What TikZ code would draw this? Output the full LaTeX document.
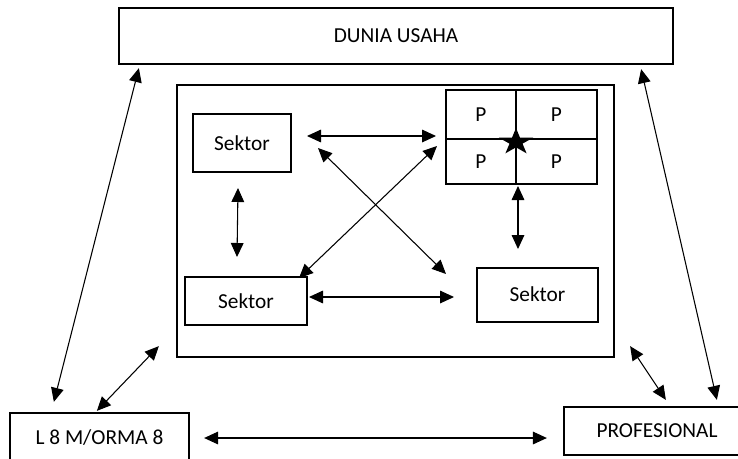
\documentclass[tikz,border=0pt]{standalone}
\usepackage{fontspec}
\setmainfont{Carlito}
\usetikzlibrary{arrows.meta}
\begin{document}
\begin{tikzpicture}[x=0.75pt,y=-0.75pt,
  box/.style={draw=black,line width=1.7pt,rectangle,inner sep=0pt,font=\fontsize{16pt}{19pt}\selectfont},
  inbox/.style={draw=black,line width=1.5pt,rectangle,inner sep=0pt,font=\fontsize{16pt}{19pt}\selectfont},
  cell/.style={draw=black,line width=1.5pt,rectangle,inner sep=0pt,font=\fontsize{16pt}{19pt}\selectfont},
  arr/.style={line width=0.8pt,{Triangle[length=10.5pt,width=9.5pt]}-{Triangle[length=10.5pt,width=9.5pt]}}]
\useasboundingbox (0,0) rectangle (738,458);
% outer boxes
\node[box,minimum width=415.5pt,minimum height=42pt] (top) at (396,36) {DUNIA USAHA};
\node[box,minimum width=327.75pt,minimum height=204pt] (cont) at (395.5,221) {};
\node[box,minimum width=134.25pt,minimum height=37.5pt] (L) at (99.5,438) {L 8 M/ORMA 8};
\node[box,minimum width=139.5pt,minimum height=36pt] (prof) at (657,431) {PROFESIONAL};
% inner boxes
\node[inbox,minimum width=73.5pt,minimum height=43.5pt] (s1) at (242,143) {Sektor};
\node[inbox,minimum width=91.5pt,minimum height=36pt] (s2) at (246,301) {Sektor\hspace{18pt}};
\node[inbox,minimum width=90.75pt,minimum height=40.5pt] (s3) at (537.5,295) {\raisebox{2pt}{Sektor}};
% P grid
\node[cell,minimum width=52.5pt,minimum height=36.75pt] (p1) at (481,114.5) {P};
\node[cell,minimum width=60.75pt,minimum height=36.75pt] (p2) at (556.5,114.5) {P};
\node[cell,minimum width=52.5pt,minimum height=33.75pt] (p3) at (481,161.5) {P};
\node[cell,minimum width=60.75pt,minimum height=33.75pt] (p4) at (556.5,161.5) {P};
% star
\coordinate (st) at ([shift={(-1,2)}]p1.south east);
\fill[black] ([shift={(270:18 and 14)}]st)
  \foreach \k in {1,...,9}{ -- ([shift={({270+36*\k}:{18*(1-0.62*mod(\k,2))} and {14*(1-0.62*mod(\k,2))})}]st) } -- cycle;
% connectors
\draw[arr] ([shift={(21,3)}]top.south west) -- ([shift={(45,-10)}]L.north west);
\draw[arr] ([shift={(-33,4)}]top.south east) -- ([shift={(154,-6)}]prof.north west);
\draw[arr] ([shift={(88,-1)}]L.north west) -- ([shift={(-17,-12)}]cont.south west);
\draw[arr] ([shift={(15,-12)}]cont.south east) -- ([shift={(103,-6)}]prof.north west);
\draw[arr] ([shift={(14,0)}]L.east) -- ([shift={(-16,7)}]prof.west);
\draw[arr] ([shift={(15,-7)}]s1.east) -- ([shift={(-9,21.5)}]p1.west);
\draw[arr] ([shift={(-4,15)}]s1.south) -- ([shift={(-9,-19)}]s2.north);
\draw[arr] ([shift={(1,-4)}]s2.east) -- ([shift={(-22,2)}]s3.west);
\draw[arr] ([shift={(1,1)}]p3.south east) -- ([shift={(-19.5,-18)}]s3.north);
\draw[arr] ([shift={(26,5)}]s1.east) -- ([shift={(-30,7)}]s3.north west);
\draw[arr] ([shift={(-8,6)}]p1.south west) -- ([shift={(-9,2)}]s2.north east);
\end{tikzpicture}
\end{document}
